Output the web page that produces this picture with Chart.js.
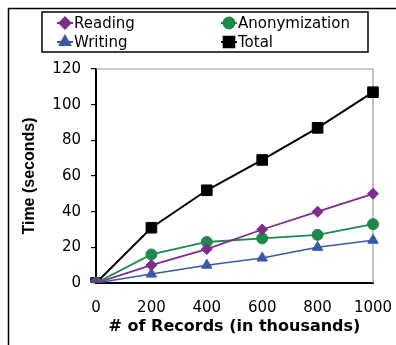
<!DOCTYPE html>
<html>
<head>
<meta charset="utf-8">
<script src="https://cdn.jsdelivr.net/npm/chart.js@4/dist/chart.umd.min.js"></script>
<style>
  html, body { margin: 0; padding: 0; background: #fff; }
  #wrap { position: relative; width: 396px; height: 345px; }
</style>
</head>
<body>
<div id="wrap"><canvas id="chart" width="396" height="345"></canvas></div>
<script>
// records in thousands
const records = ["0", "200", "400", "600", "800", "1000"];
const reading = [0, 10, 19, 30, 40, 50];
const anonymization = [0, 16, 23, 25, 27, 33];
const writing = [0, 5, 10, 14, 20, 24];
const total = [0, 31, 52, 69, 87, 107];
const yTicks = [0, 20, 40, 60, 80, 100, 120];

// the original text is a bit wide, DejaVu gets closer than Arial
const WIDE = "'DejaVu Sans', sans-serif";
const ARIAL = "Arial, 'Liberation Sans', sans-serif";
const C_READ = "#7e2d8c";
const C_ANON = "#1d8a4c";
const C_WRITE = "#3a58a8";
const C_TOTAL = "#000000";

function ds(label, data, color, style, radius, width) {
  return {
    label, data,
    borderColor: color, backgroundColor: color,
    pointStyle: style, pointRadius: radius, pointHoverRadius: radius,
    pointBorderWidth: 1, borderWidth: width, tension: 0
  };
}

// frame, gray top/right border of plot, legend box
const decor = {
  id: "decor",
  beforeDatasetsDraw(chart) {
    const { ctx, chartArea: a } = chart;
    ctx.save();
    ctx.strokeStyle = "#999";
    ctx.lineWidth = 1.2;
    ctx.beginPath();
    ctx.moveTo(a.left, a.top);
    ctx.lineTo(a.right, a.top);
    ctx.lineTo(a.right, a.bottom);
    ctx.stroke();
    ctx.restore();
  },
  afterDraw(chart) {
    const ctx = chart.ctx;
    ctx.save();
    ctx.strokeStyle = "#000";
    ctx.lineWidth = 1.5;
    ctx.beginPath();
    ctx.moveTo(8.5, 345);
    ctx.lineTo(8.5, 8.5);
    ctx.lineTo(396, 8.5);
    ctx.stroke();
    ctx.strokeRect(42, 12, 326, 40);

    const items = [
      { ds: 0, x: 65, y: 23 },
      { ds: 1, x: 229, y: 23 },
      { ds: 2, x: 65, y: 42 },
      { ds: 3, x: 229, y: 42 }
    ];
    ctx.font = "15px " + WIDE;
    ctx.textBaseline = "middle";
    items.forEach((it) => {
      const d = chart.data.datasets[it.ds];
      ctx.strokeStyle = d.borderColor;
      ctx.lineWidth = 2;
      ctx.beginPath();
      ctx.moveTo(it.x - 8, it.y);
      ctx.lineTo(it.x + 8, it.y);
      ctx.stroke();
      ctx.fillStyle = d.backgroundColor;
      Chart.helpers.drawPoint(ctx, { pointStyle: d.pointStyle, radius: d.pointRadius, borderWidth: 1 }, it.x, it.y);
      ctx.fill();
      ctx.fillStyle = "#000";
      ctx.fillText(d.label, it.x + 9, it.y + 1);
    });
    ctx.restore();
  }
};

new Chart(document.getElementById("chart"), {
  type: "line",
  data: {
    labels: records,
    datasets: [
      ds("Reading", reading, C_READ, "rectRot", 5.5, 1.8),
      ds("Anonymization", anonymization, C_ANON, "circle", 5.5, 1.8),
      ds("Writing", writing, C_WRITE, "triangle", 6, 1.5),
      ds("Total", total, C_TOTAL, "rect", 7.5, 2)
    ]
  },
  options: {
    responsive: false,
    animation: false,
    layout: { padding: { left: 0, top: 69, right: 23, bottom: 0 } },
    plugins: { legend: { display: false }, tooltip: { enabled: false } },
    scales: {
      x: {
        type: "category",
        offset: false,
        afterFit: (s) => { s.height = 62; s.paddingLeft = 0; s.paddingRight = 0; },
        grid: { display: false },
        border: { display: true, color: "#000", width: 2 },
        ticks: { color: "#000", font: { family: WIDE, size: 15 }, padding: 8, maxRotation: 0, autoSkip: false },
        title: { display: true, text: "# of Records (in thousands)", color: "#000",
                 font: { family: WIDE, size: 16, weight: "bold" }, padding: { top: 0, bottom: 9 } }
      },
      y: {
        min: 0, max: 120,
        afterFit: (s) => { s.width = 96; },
        afterBuildTicks: (s) => { s.ticks = yTicks.map((v) => ({ value: v })); },
        grid: { display: true, drawOnChartArea: false, drawTicks: true, tickLength: 5, color: "#000", lineWidth: 1.2 },
        border: { display: true, color: "#000", width: 2 },
        ticks: { color: "#000", font: { family: WIDE, size: 15 }, padding: 10 },
        title: { display: true, text: "Time (seconds)", color: "#000",
                 font: { family: ARIAL, size: 16, weight: "bold" }, padding: { top: 20, bottom: 0 } }
      }
    }
  },
  plugins: [decor]
});
</script>
</body>
</html>
